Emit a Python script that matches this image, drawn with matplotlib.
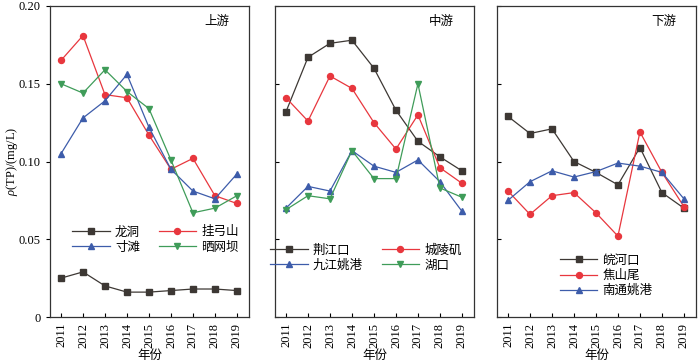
import matplotlib
matplotlib.use('Agg')
import matplotlib.pyplot as plt
import numpy as np

plt.rcParams['font.family'] = ['Liberation Serif', 'Noto Sans CJK SC']
plt.rcParams['font.size'] = 9
plt.rcParams['mathtext.fontset'] = 'custom'
plt.rcParams['mathtext.rm'] = 'Liberation Serif'
plt.rcParams['mathtext.it'] = 'Liberation Serif:italic'
plt.rcParams['axes.unicode_minus'] = False

years = [2011, 2012, 2013, 2014, 2015, 2016, 2017, 2018, 2019]

# 上游
longdong = [0.025, 0.029, 0.020, 0.016, 0.016, 0.017, 0.018, 0.018, 0.017]
guagongshan = [0.165, 0.181, 0.143, 0.141, 0.117, 0.095, 0.102, 0.078, 0.073]
cuntan = [0.105, 0.128, 0.139, 0.156, 0.122, 0.095, 0.081, 0.076, 0.092]
shaiwangba = [0.150, 0.144, 0.159, 0.145, 0.134, 0.101, 0.067, 0.070, 0.078]

# 中游
jingjiangkou = [0.132, 0.167, 0.176, 0.178, 0.160, 0.133, 0.113, 0.103, 0.094]
chenglingji = [0.141, 0.126, 0.155, 0.147, 0.125, 0.108, 0.130, 0.096, 0.086]
jiujiang = [0.070, 0.084, 0.081, 0.107, 0.097, 0.093, 0.101, 0.087, 0.068]
hukou = [0.069, 0.078, 0.076, 0.107, 0.089, 0.089, 0.150, 0.083, 0.077]

# 下游
wanhekou = [0.129, 0.118, 0.121, 0.100, 0.093, 0.085, 0.109, 0.080, 0.070]
jiaoshanwei = [0.081, 0.066, 0.078, 0.080, 0.067, 0.052, 0.119, 0.093, 0.071]
nantong = [0.075, 0.087, 0.094, 0.090, 0.0935, 0.099, 0.097, 0.093, 0.076]

ytick_vals = [0, 0.05, 0.10, 0.15, 0.20]
ytick_labels = ['0', '0.05', '0.10', '0.15', '0.20']

colors = {
    'black': '#3d3834',
    'red': '#e8373e',
    'blue': '#3d5caa',
    'green': '#3f9c59',
}

panels = [
    ('上游', [
        ('龙洞', longdong, 'black', 's'),
        ('挂弓山', guagongshan, 'red', 'o'),
        ('寸滩', cuntan, 'blue', '^'),
        ('晒网坝', shaiwangba, 'green', 'v'),
    ], 2, (0.53, 0.248)),
    ('中游', [
        ('荆江口', jingjiangkou, 'black', 's'),
        ('城陵矶', chenglingji, 'red', 'o'),
        ('九江姚港', jiujiang, 'blue', '^'),
        ('湖口', hukou, 'green', 'v'),
    ], 2, (0.457, 0.19)),
    ('下游', [
        ('皖河口', wanhekou, 'black', 's'),
        ('焦山尾', jiaoshanwei, 'red', 'o'),
        ('南通姚港', nantong, 'blue', '^'),
    ], 1, (0.548, 0.132)),
]

fig = plt.figure(figsize=(7, 3.62), dpi=100)
lefts = [50 / 700, 275 / 700, 497 / 700]

for i, (title, series, ncol, legpos) in enumerate(panels):
    ax = fig.add_axes([lefts[i], 1 - 317 / 362, 199 / 700, 311 / 362])
    handles = []
    for name, vals, c, m in series:
        ms = 3.8 if m == 's' else 4.3
        h, = ax.plot(years, vals, color=colors[c], marker=m, markersize=ms,
                     linewidth=0.9, label=name)
        handles.append(h)
    ax.set_xlim(2010.5, 2019.55)
    ax.set_ylim(0, 0.2)
    ax.set_xticks(years)
    ax.set_xticklabels([str(y) for y in years], rotation=90)
    ax.tick_params(axis='x', direction='in', length=3, width=0.8, pad=4)
    ax.set_yticks(ytick_vals)
    if i == 0:
        ax.set_yticklabels(ytick_labels)
        ax.tick_params(axis='y', direction='out', length=3, width=0.8)
        ax.set_ylabel(r'$\rho$(TP)/(mg/L)')
        ax.yaxis.set_label_coords(-0.15, 0.5)
    else:
        ax.set_yticklabels([])
        ax.tick_params(axis='y', direction='in', length=3, width=0.8)
    for sp in ax.spines.values():
        sp.set_linewidth(0.9)
        sp.set_color('#333333')
    ax.set_xlabel('年份', labelpad=2)
    ax.text(0.9, 0.95, title, transform=ax.transAxes, ha='right', va='center',
            fontsize=9)
    # 图例按行排列
    if ncol == 2:
        handles = [handles[0], handles[2], handles[1], handles[3]]
    ax.legend(handles=handles, loc='center', bbox_to_anchor=legpos, ncol=ncol,
              frameon=False, handlelength=3.0, handletextpad=0.4,
              columnspacing=1.5, labelspacing=0.25, borderpad=0, fontsize=9)

plt.savefig('out.png', dpi=100, facecolor='white')
